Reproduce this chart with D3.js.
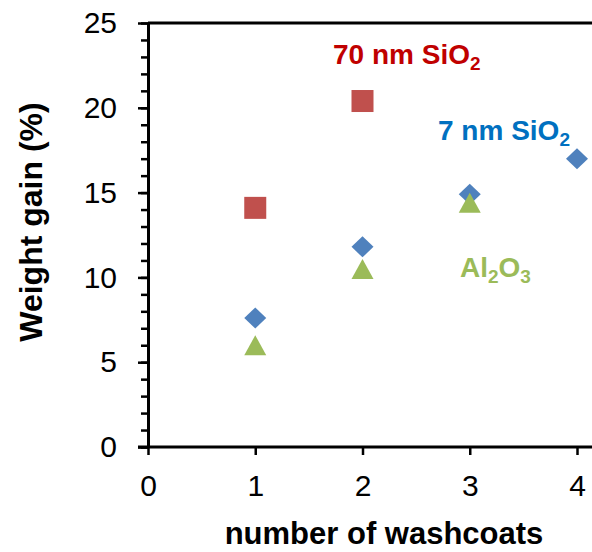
<!DOCTYPE html>
<html>
<head>
<meta charset="utf-8">
<script src="https://cdn.jsdelivr.net/npm/d3@7"></script>
<style>
  body { margin: 0; background: #fff; }
  text { font-family: "Liberation Sans", Arial, sans-serif; }
</style>
</head>
<body>
<svg id="chart" width="592" height="552"></svg>
<script>
// washcoat count vs weight gain
var washcoats = [1, 2, 3, 4];
var sio2_70 = [14.1, 20.4];
var sio2_7 = [7.6, 11.8, 14.9, 17.0];
var al2o3 = [6.0, 10.5, 14.4];
var xTicks = [0, 1, 2, 3, 4];
var yTicks = [0, 5, 10, 15, 20, 25];

var svg = d3.select("#chart");
var mLeft = 148, mTop = 23, mRight = 577, mBottom = 447;

var x = d3.scaleLinear().domain([0, 4]).range([mLeft, mRight]);
var y = d3.scaleLinear().domain([0, 25]).range([mBottom, mTop]);

// top frame line
svg.append("line")
    .attr("x1", mLeft).attr("x2", 592)
    .attr("y1", mTop).attr("y2", mTop)
    .attr("stroke", "#000").attr("stroke-width", 3);

// minor y ticks
svg.append("g")
    .attr("transform", "translate(" + mLeft + ",0)")
    .call(d3.axisLeft(y).ticks(25).tickSize(7).tickFormat(""))
    .call(function(g) { g.select(".domain").remove(); })
    .selectAll("line").attr("stroke-width", 2.5);

var yAxis = svg.append("g")
    .attr("transform", "translate(" + mLeft + ",0)")
    .call(d3.axisLeft(y).tickValues(yTicks).tickFormat(d3.format("d"))
        .tickSize(10).tickSizeOuter(0).tickPadding(21));
yAxis.selectAll("line").attr("stroke-width", 2.5);
yAxis.select(".domain").attr("stroke-width", 3);
yAxis.selectAll("text")
    .attr("font-size", 30).attr("fill", "#000");

var xAxis = svg.append("g")
    .attr("transform", "translate(0," + mBottom + ")")
    .call(d3.axisBottom(x).tickValues(xTicks).tickFormat(d3.format("d"))
        .tickSize(8).tickSizeOuter(0).tickPadding(20));
xAxis.selectAll("line").attr("stroke-width", 2.5);
xAxis.select(".domain").attr("stroke-width", 3)
    .attr("d", "M" + (mLeft - 10) + ",0H592");
xAxis.selectAll("text")
    .attr("font-size", 30).attr("fill", "#000");

// axis titles
svg.append("text")
    .attr("x", 384).attr("y", 544)
    .attr("text-anchor", "middle")
    .attr("font-size", 31).attr("font-weight", "bold")
    .text("number of washcoats");

svg.append("text")
    .attr("transform", "translate(42,222) rotate(-90)")
    .attr("text-anchor", "middle")
    .attr("font-size", 32).attr("font-weight", "bold")
    .text("Weight gain (%)");

// markers
svg.selectAll(".sq")
    .data(sio2_70)
    .enter().append("rect")
    .attr("x", function(d, i) { return x(washcoats[i]) - 11; })
    .attr("y", function(d) { return y(d) - 11; })
    .attr("width", 22).attr("height", 22)
    .attr("fill", "#C0504D");

svg.selectAll(".dia")
    .data(sio2_7)
    .enter().append("path")
    .attr("transform", function(d, i) { return "translate(" + x(washcoats[i]) + "," + y(d) + ")"; })
    .attr("d", "M0,-10.5L11,0L0,10.5L-11,0Z")
    .attr("fill", "#4F81BD");

svg.selectAll(".tri")
    .data(al2o3)
    .enter().append("path")
    .attr("transform", function(d, i) { return "translate(" + x(washcoats[i]) + "," + y(d) + ")"; })
    .attr("d", "M0,-10L11,10L-11,10Z")
    .attr("fill", "#9BBB59");

// series labels
function label(xp, yp, color, parts) {
    var t = svg.append("text")
        .attr("x", xp).attr("y", yp)
        .attr("font-size", 28).attr("font-weight", "bold")
        .attr("fill", color);
    parts.forEach(function(p) {
        var s = t.append("tspan").text(p[0]);
        if (p[1]) s.attr("font-size", 19).attr("dy", 6);
        else if (p[2]) s.attr("dy", -6);
    });
}
label(333, 64, "#C00000", [["70 nm SiO"], ["2", true]]);
label(438, 140, "#0070C0", [["7 nm SiO"], ["2", true]]);
label(460, 277, "#9BBB59", [["Al"], ["2", true], ["O", false, true], ["3", true]]);
</script>
</body>
</html>
